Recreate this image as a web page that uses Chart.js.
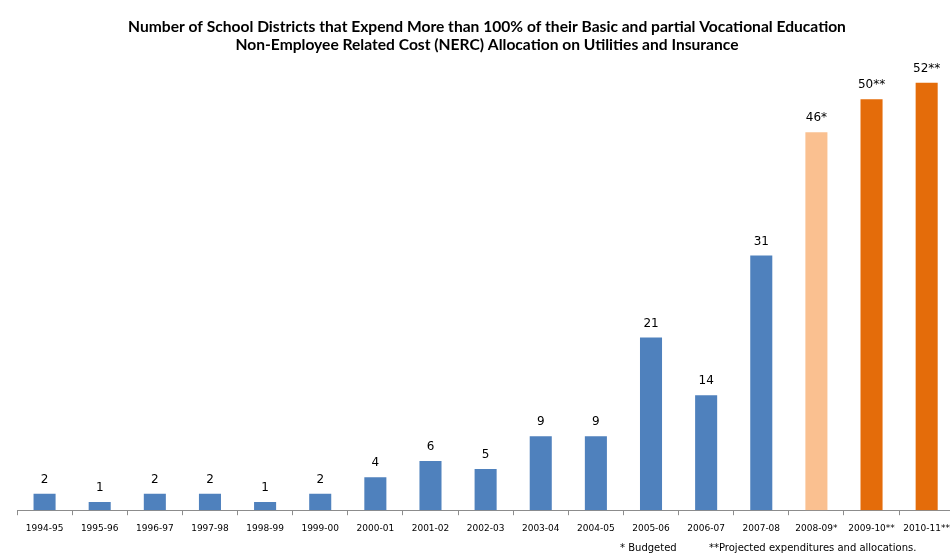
<!DOCTYPE html>
<html>
<head>
<meta charset="utf-8">
<script src="https://cdn.jsdelivr.net/npm/chart.js@4/dist/chart.umd.min.js"></script>
<style>
  html, body { margin: 0; padding: 0; background: #fff; overflow: hidden; width: 950px; height: 555px; }
  #wrap { position: relative; width: 958px; height: 555px; }
  canvas { display: block; }
  .note { position: absolute; top: 542px; font: 10px "DejaVu Sans", sans-serif; color: #000; white-space: nowrap; }
</style>
</head>
<body>
<div id="wrap">
  <canvas id="c" width="958" height="555"></canvas>
  <div class="note" style="left:620px">* Budgeted</div>
  <div class="note" style="left:709px">**Projected expenditures and allocations.</div>
</div>
<script>
// School years on the category axis
const seasons = ['1994-95','1995-96','1996-97','1997-98','1998-99','1999-00','2000-01','2001-02',
  '2002-03','2003-04','2004-05','2005-06','2006-07','2007-08','2008-09*','2009-10**','2010-11**'];
// Number of districts spending over 100% of the NERC allocation
const districts = [2, 1, 2, 2, 1, 2, 4, 6, 5, 9, 9, 21, 14, 31, 46, 50, 52];
// Footnote markers appended to the value labels
const valueMarks = ['','','','','','','','','','','','','','','*','**','**'];
// Data status of each year: actual, budgeted or projected
const status = ['actual','actual','actual','actual','actual','actual','actual','actual',
  'actual','actual','actual','actual','actual','actual','budgeted','projected','projected'];

const statusColors = { actual: '#4F81BD', budgeted: '#FAC090', projected: '#E46C0A' };

const valueLabels = {
  id: 'valueLabels',
  afterDatasetsDraw(chart) {
    const ctx = chart.ctx;
    const meta = chart.getDatasetMeta(0);
    ctx.save();
    ctx.font = '12px "DejaVu Sans", sans-serif';
    ctx.fillStyle = '#000';
    ctx.textAlign = 'center';
    ctx.textBaseline = 'bottom';
    meta.data.forEach((bar, i) => {
      ctx.fillText(String(districts[i]) + valueMarks[i], bar.x, bar.y - 8);
    });
    ctx.restore();
  }
};

new Chart(document.getElementById('c'), {
  type: 'bar',
  data: {
    labels: seasons,
    datasets: [{
      data: districts,
      backgroundColor: status.map(s => statusColors[s]),
      borderWidth: 0,
      categoryPercentage: 1.0,
      barPercentage: 0.4
    }]
  },
  options: {
    responsive: false,
    animation: false,
    layout: { padding: { left: 17, right: 1, top: 4, bottom: 13 } },
    plugins: {
      legend: { display: false },
      tooltip: { enabled: false },
      title: {
        display: true,
        text: ['Number of School Districts that Expend More than 100% of their Basic and partial Vocational Education',
               'Non-Employee Related Cost (NERC) Allocation on Utilities and Insurance'],
        font: { family: 'Lato', size: 15.6, weight: 'bold', lineHeight: 1.16 },
        color: '#000',
        padding: { top: 14, bottom: 4 }
      }
    },
    scales: {
      x: {
        offset: true,
        grid: { display: true, offset: true, drawOnChartArea: false, drawTicks: true, tickLength: 5, color: '#8c8c8c' },
        border: { display: true, color: '#8c8c8c' },
        ticks: {
          autoSkip: false, maxRotation: 0, minRotation: 0, padding: 8,
          color: '#000', font: { family: 'DejaVu Sans', size: 9 }
        }
      },
      y: {
        display: false,
        min: 0,
        max: 55
      }
    }
  },
  plugins: [valueLabels]
});
</script>
</body>
</html>
